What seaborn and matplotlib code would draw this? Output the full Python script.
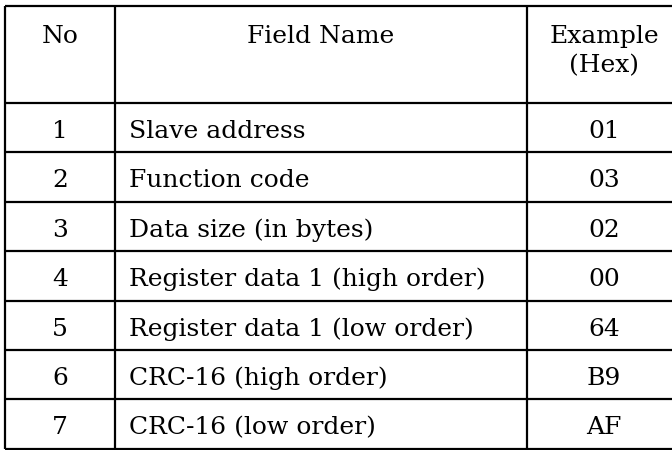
import matplotlib
matplotlib.use("Agg")
import matplotlib.pyplot as plt
import seaborn as sns

# table content
numbers = ["1", "2", "3", "4", "5", "6", "7"]
field_names = ["Slave address", "Function code", "Data size (in bytes)",
               "Register data 1 (high order)", "Register data 1 (low order)",
               "CRC-16 (high order)", "CRC-16 (low order)"]
hex_values = ["01", "03", "02", "00", "64", "B9", "AF"]
headers = ["No", "Field Name", "Example\n(Hex)"]

sns.set_theme(style="white")
plt.rcParams["font.family"] = ["DejaVu Serif"]
plt.rcParams["text.color"] = "black"

fig = plt.figure(figsize=(6.72, 4.5), dpi=100)
ax = fig.add_axes([0, 0, 1, 1])
ax.set_xlim(0, 672)
ax.set_ylim(450, 0)
ax.axis("off")

# layout in pixels
x_left, x_c1, x_c2, x_right = 5, 115, 527, 672
y_top, y_head = 6, 103
row_h = 49.4
fs = 18
lw = 1.6

row_edges = [y_head + i * row_h for i in range(len(numbers) + 1)]
row_edges[-1] = 448.5

# grid lines
ax.hlines([y_top] + row_edges, x_left, x_right, color="black", lw=lw)
ax.vlines([x_left, x_c1, x_c2], y_top, row_edges[-1], color="black", lw=lw)

# header text
ax.text((x_left + x_c1) / 2, 43, headers[0], ha="center", va="baseline", fontsize=fs)
ax.text((x_c1 + x_c2) / 2, 43, headers[1], ha="center", va="baseline", fontsize=fs)
ex, hx = headers[2].split("\n")
ax.text(604, 43, ex, ha="center", va="baseline", fontsize=fs)
ax.text(604, 72, hx, ha="center", va="baseline", fontsize=fs)

# body rows
for i, (n, name, hv) in enumerate(zip(numbers, field_names, hex_values)):
    yb = row_edges[i] + 35
    ax.text((x_left + x_c1) / 2, yb, n, ha="center", va="baseline", fontsize=fs)
    ax.text(129, yb, name, ha="left", va="baseline", fontsize=fs)
    ax.text(604, yb, hv, ha="center", va="baseline", fontsize=fs)

fig.savefig("out.png", dpi=100, facecolor="white")
